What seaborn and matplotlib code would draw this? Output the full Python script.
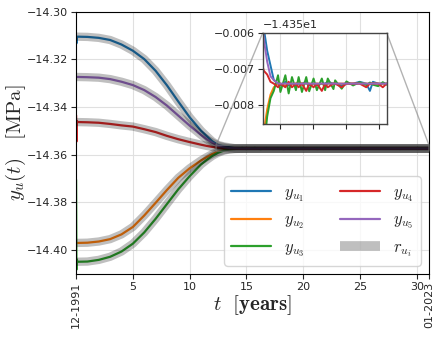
import numpy as np
import pandas as pd
import seaborn as sns
import matplotlib
matplotlib.use("Agg")
import matplotlib.pyplot as plt
from matplotlib.lines import Line2D

# ---------------- data ----------------
t_years = [0.0, 0.03, 0.06, 0.12, 1, 2, 3, 4, 5, 6, 7, 8, 9, 10, 11, 11.5,
           12, 12.5, 13, 13.5, 14, 14.64, 15.0, 15.75, 16.25, 16.75, 17.35, 17.76,
           18.26, 18.91, 19.36, 20.02, 20.52, 21.27, 21.77, 22.17, 23.03, 23.28,
           24.28, 25.0, 26.0, 27.0, 28.0, 28.55, 29.0, 29.8, 30.5, 31.08]

y_u1 = [-14.3103, -14.3133, -14.3108, -14.3105, -14.3106, -14.3110, -14.3119, -14.3138,
        -14.3164, -14.3199, -14.3248, -14.3309, -14.3377, -14.3443, -14.3499, -14.3522,
        -14.3544, -14.3559, -14.3565, -14.3569, -14.3573, -14.3574, -14.35745, -14.35735,
        -14.35745, -14.3574, -14.35745, -14.3574, -14.3574, -14.35735, -14.35745, -14.3574,
        -14.35745, -14.3574, -14.3574, -14.35735, -14.3574, -14.3574, -14.35745, -14.3574,
        -14.3574, -14.35735, -14.3574, -14.3576, -14.35735, -14.3574, -14.3574, -14.3574]

y_u2 = [-14.3970, -14.3970, -14.3970, -14.3970, -14.3969, -14.3964, -14.3954, -14.3934,
        -14.3903, -14.3855, -14.3802, -14.3748, -14.3697, -14.3657, -14.3624, -14.3610,
        -14.3597, -14.3587, -14.3581, -14.3577, -14.3575, -14.3574, -14.3574, -14.35745,
        -14.3574, -14.3574, -14.3574, -14.35735, -14.3574, -14.3574, -14.3574, -14.3574,
        -14.3574, -14.3574, -14.35745, -14.3574, -14.3574, -14.3574, -14.3574, -14.3574,
        -14.3574, -14.3574, -14.3574, -14.3574, -14.3574, -14.3574, -14.3574, -14.3574]

y_u3 = [-14.3705, -14.4082, -14.4040, -14.4049, -14.4048, -14.4041, -14.4028, -14.4006,
        -14.3973, -14.3926, -14.3869, -14.3807, -14.3745, -14.3690, -14.3641, -14.3622,
        -14.3605, -14.3592, -14.3583, -14.3578, -14.3576, -14.35717, -14.35763, -14.35717,
        -14.35767, -14.35722, -14.35758, -14.35722, -14.35763, -14.35722, -14.35761, -14.35726,
        -14.35758, -14.35726, -14.35758, -14.35726, -14.35755, -14.35731, -14.35754, -14.35734,
        -14.35745, -14.35736, -14.35744, -14.35737, -14.35743, -14.35747, -14.35736, -14.35743]

y_u4 = [-14.3435, -14.3545, -14.3458, -14.3463, -14.3464, -14.3466, -14.3471, -14.3477,
        -14.3482, -14.3493, -14.3505, -14.3521, -14.3535, -14.3547, -14.3558, -14.3563,
        -14.35675, -14.35705, -14.35715, -14.35735, -14.3574, -14.3575, -14.3574, -14.3575,
        -14.35735, -14.3575, -14.3574, -14.3575, -14.3574, -14.3576, -14.3574, -14.3575,
        -14.3574, -14.3576, -14.3574, -14.3575, -14.3574, -14.3574, -14.3575, -14.3574,
        -14.3574, -14.3574, -14.3575, -14.3574, -14.3574, -14.3574, -14.3575, -14.3574]

y_u5 = [-14.3274, -14.3274, -14.3274, -14.3274, -14.3275, -14.3277, -14.3283, -14.3294,
        -14.3308, -14.3329, -14.3358, -14.3394, -14.3436, -14.3478, -14.3517, -14.3535,
        -14.3550, -14.3562, -14.3568, -14.3572, -14.3573, -14.3574, -14.3574, -14.3574,
        -14.3574, -14.3574, -14.3574, -14.3574, -14.3574, -14.3574, -14.3574, -14.3574,
        -14.3574, -14.3574, -14.3574, -14.3574, -14.3574, -14.3574, -14.3574, -14.3574,
        -14.3574, -14.3574, -14.3574, -14.3574, -14.3574, -14.3574, -14.3574, -14.3574]

t_ref = [0, 1, 2, 3, 4, 5, 6, 7, 8, 9, 10, 11, 11.5, 12, 12.5, 13, 13.5, 14, 15, 31.08]
r_u1 = [-14.3105, -14.3106, -14.3110, -14.3119, -14.3138, -14.3164, -14.3199, -14.3248, -14.3309,
        -14.3377, -14.3443, -14.3499, -14.3522, -14.3544, -14.3559, -14.3565, -14.3569, -14.3573,
        -14.3574, -14.3574]
r_u2 = [-14.3970, -14.3969, -14.3964, -14.3954, -14.3934, -14.3903, -14.3855, -14.3802, -14.3748,
        -14.3697, -14.3657, -14.3624, -14.3610, -14.3597, -14.3587, -14.3581, -14.3577, -14.3575,
        -14.3574, -14.3574]
r_u3 = [-14.4049, -14.4048, -14.4041, -14.4028, -14.4006, -14.3973, -14.3926, -14.3869, -14.3807,
        -14.3745, -14.3690, -14.3641, -14.3622, -14.3605, -14.3592, -14.3583, -14.3578, -14.3576,
        -14.3574, -14.3574]
r_u4 = [-14.3463, -14.3464, -14.3466, -14.3471, -14.3477, -14.3482, -14.3493, -14.3505, -14.3521,
        -14.3535, -14.3547, -14.3558, -14.3563, -14.35675, -14.35705, -14.35715, -14.35735, -14.3574,
        -14.3574, -14.3574]
r_u5 = [-14.3274, -14.3275, -14.3277, -14.3283, -14.3294, -14.3308, -14.3329, -14.3358, -14.3394,
        -14.3436, -14.3478, -14.3517, -14.3535, -14.3550, -14.3562, -14.3568, -14.3572, -14.3573,
        -14.3574, -14.3574]

series_labels = [r'$y_{u_1}$', r'$y_{u_2}$', r'$y_{u_3}$', r'$y_{u_4}$', r'$y_{u_5}$']
ref_label = r'$r_{u_i}$'
x_ticks = [0, 5, 10, 15, 20, 25, 30, 31.08]
x_tick_labels = ['12-1991', '5', '10', '15', '20', '25', '30', '01-2023']
y_ticks = [-14.30, -14.32, -14.34, -14.36, -14.38, -14.40]
inset_y_ticks = [-14.356, -14.357, -14.358]
inset_x_ticks = [15, 20, 25, 30]

# ---------------- style ----------------
sns.set_style("whitegrid", {
    "axes.edgecolor": "black",
    "grid.color": "#e0e0e0",
    "xtick.bottom": True,
    "ytick.left": True,
})
plt.rcParams["font.family"] = ["DejaVu Sans"]
plt.rcParams["mathtext.fontset"] = "cm"
plt.rcParams["axes.linewidth"] = 0.8

colors = ['#1f77b4', '#ff7f0e', '#2ca02c', '#d62728', '#9467bd']

ys = [y_u1, y_u2, y_u3, y_u4, y_u5]
rs = [r_u1, r_u2, r_u3, r_u4, r_u5]

df = pd.DataFrame({'t': np.tile(t_years, 5),
                   'y': np.concatenate(ys),
                   's': np.repeat(series_labels, len(t_years))})
dfr = pd.DataFrame({'t': np.tile(t_ref, 5),
                    'y': np.concatenate(rs),
                    's': np.repeat(['r1', 'r2', 'r3', 'r4', 'r5'], len(t_ref))})

fig, ax = plt.subplots(figsize=(4.45, 3.42), dpi=100)
fig.subplots_adjust(left=0.171, right=0.964, top=0.966, bottom=0.199)

sns.lineplot(data=df, x='t', y='y', hue='s', palette=colors, lw=1.6, ax=ax,
             legend=False, sort=False, estimator=None)
sns.lineplot(data=dfr, x='t', y='y', units='s', color='black', alpha=0.25, lw=6,
             ax=ax, legend=False, sort=False, estimator=None,
             solid_capstyle='butt')

ax.set_xlim(0, 31.08)
ax.set_ylim(-14.41, -14.30)
ax.set_xticks(x_ticks)
ax.set_xticklabels(x_tick_labels)
ax.set_yticks(y_ticks)
ax.set_yticklabels([f"{v:.2f}".replace('-', '\u2212') for v in y_ticks])
ax.tick_params(axis='both', labelsize=8, length=3.5, width=0.8, pad=2)
tl = ax.get_xticklabels()
tl[0].set_rotation(90)
tl[-1].set_rotation(90)
ax.set_xlabel(r'$t\ \ [\mathbf{years}]$', fontsize=15)
ax.xaxis.set_label_coords(0.5, -0.072)
ax.set_ylabel(r'$y_u(t)\quad[\mathrm{MPa}]$', fontsize=15)
ax.yaxis.set_label_coords(-0.137, 0.5)
for sp in ax.spines.values():
    sp.set_color('black')

# legend
handles = [Line2D([0], [0], color=c, lw=1.6) for c in colors]
handles.append(Line2D([0], [0], color='black', alpha=0.25, lw=7, solid_capstyle='butt'))
ax.legend(handles, series_labels + [ref_label], ncol=2, loc='lower right',
          fontsize=12, handlelength=2.4, labelspacing=0.4, columnspacing=2.1,
          frameon=True, framealpha=0.8, edgecolor='#cccccc', fancybox=True)

# inset
axins = ax.inset_axes([0.529, 0.570, 0.351, 0.350])
sns.lineplot(data=df, x='t', y='y', hue='s', palette=colors, lw=1.4, ax=axins,
             legend=False, sort=False, estimator=None)
axins.set_xlim(12.33, 31.08)
axins.set_ylim(-14.35852, -14.356)
axins.set_xticks(inset_x_ticks)
axins.set_xticklabels([])
axins.set_yticks(inset_y_ticks)
axins.tick_params(axis='both', labelsize=8, length=3.5, width=0.8, pad=2)
axins.yaxis.get_offset_text().set_fontsize(8)
axins.set_xlabel('')
axins.set_ylabel('')
axins.set_facecolor('white')
for sp in axins.spines.values():
    sp.set_color('#444444')
    sp.set_linewidth(1.0)

ind = ax.indicate_inset_zoom(axins, edgecolor='gray', alpha=0.6)
try:
    conns = ind.connectors
except AttributeError:
    conns = ind[1]
for i, c in enumerate(conns):
    c.set_visible(i in (1, 3))

fig.savefig('out.png', dpi=100)
